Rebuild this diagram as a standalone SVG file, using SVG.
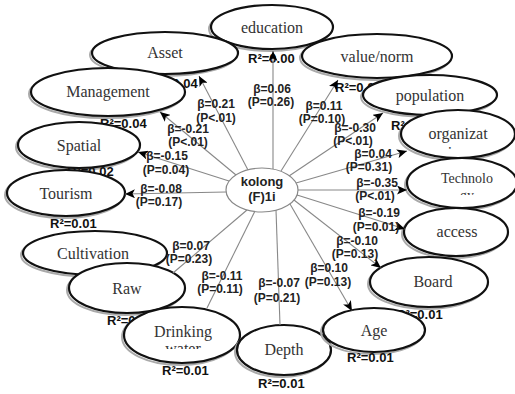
<svg xmlns="http://www.w3.org/2000/svg" width="515" height="394" viewBox="0 0 515 394">
<defs>
<style>
.sh{fill:none;stroke:#aaa;stroke-width:2}
.el{fill:#fff;stroke:#111;stroke-width:2.2}
.nl{font-family:"Liberation Serif","Times New Roman",serif;font-size:16px;fill:#333;text-anchor:middle}
.r2{font-family:"Liberation Sans",Arial,sans-serif;font-size:13px;font-weight:bold;fill:#111}
.bl{font-family:"Liberation Sans",Arial,sans-serif;font-size:12px;font-weight:bold;fill:#222;text-anchor:middle}
.ln{stroke:#888;stroke-width:1.1;fill:none}
.ar{marker-end:url(#ah)}
</style>
<marker id="ah" markerUnits="userSpaceOnUse" markerWidth="11" markerHeight="9" refX="10" refY="4.5" orient="auto">
<path d="M0,0 L10,4.5 L0,9 L2.5,4.5 z" fill="#000"/>
</marker>
<clipPath id="cDrink"><rect x="120" y="300" width="130" height="49"/></clipPath>
<clipPath id="cTech"><rect x="400" y="160" width="115" height="35"/></clipPath>
<clipPath id="cOrg"><rect x="400" y="110" width="115" height="39"/></clipPath>
</defs>
<rect width="515" height="394" fill="#fff"/>

<g id="node-education">
<ellipse class="sh" cx="270" cy="29" rx="61" ry="22"/>
<ellipse class="el" cx="272" cy="27" rx="61" ry="22"/>
<text class="nl" x="272" y="33">education</text>
<text class="r2" x="248" y="63">R²=0.00</text>
</g>
<g id="node-value-norm">
<ellipse class="sh" cx="375" cy="58" rx="75" ry="22"/>
<ellipse class="el" cx="377" cy="56" rx="75" ry="22"/>
<text class="nl" x="377" y="62">value/norm</text>
<text class="r2" x="335" y="92">R²=0.0</text>
</g>
<g id="node-population">
<ellipse class="sh" cx="428" cy="97" rx="67" ry="20"/>
<ellipse class="el" cx="430" cy="95" rx="67" ry="20"/>
<text class="nl" x="430" y="101">population</text>
<text class="r2" x="391" y="130">R²=0.0</text>
</g>
<g id="node-organizat">
<ellipse class="sh" cx="456" cy="136" rx="57" ry="24"/>
<ellipse class="el" cx="458" cy="134" rx="57" ry="24"/>
<text class="nl" x="458" y="139">organizat</text>
<text class="nl" x="458" y="158" clip-path="url(#cOrg)">ion</text>
</g>
<g id="node-technology">
<ellipse class="sh" cx="460" cy="185" rx="55" ry="25"/>
<ellipse class="el" cx="462" cy="183" rx="55" ry="25"/>
<text class="nl" x="467" y="183" style="font-size:14px">Technolo</text>
<text class="nl" x="467" y="200" style="font-size:14px" clip-path="url(#cTech)">gy</text>
</g>
<g id="node-access">
<ellipse class="sh" cx="454" cy="234" rx="52" ry="24"/>
<ellipse class="el" cx="456" cy="232" rx="52" ry="24"/>
<text class="nl" x="457" y="237">access</text>
</g>
<g id="node-board">
<ellipse class="sh" cx="427" cy="284" rx="59" ry="25"/>
<ellipse class="el" cx="429" cy="282" rx="59" ry="25"/>
<text class="nl" x="433" y="287">Board</text>
<text class="r2" x="396" y="319">R²=0.01</text>
</g>
<g id="node-asset">
<ellipse class="sh" cx="163" cy="55" rx="73" ry="21"/>
<ellipse class="el" cx="165" cy="53" rx="73" ry="21"/>
<text class="nl" x="165" y="58">Asset</text>
<text class="r2" x="151" y="88">R²=0.04</text>
</g>
<g id="node-management">
<ellipse class="sh" cx="106" cy="94" rx="77" ry="24"/>
<ellipse class="el" cx="108" cy="92" rx="77" ry="24"/>
<text class="nl" x="108" y="97">Management</text>
<text class="r2" x="100" y="128">R²=0.04</text>
</g>
<g id="node-spatial">
<ellipse class="sh" cx="77" cy="147" rx="61" ry="23"/>
<ellipse class="el" cx="79" cy="145" rx="61" ry="23"/>
<text class="nl" x="79" y="151">Spatial</text>
<text class="r2" x="67" y="176">R²=0.02</text>
</g>
<g id="node-tourism">
<ellipse class="sh" cx="64" cy="195" rx="59" ry="23"/>
<ellipse class="el" cx="66" cy="193" rx="59" ry="23"/>
<text class="nl" x="66" y="199">Tourism</text>
<text class="r2" x="50" y="228">R²=0.01</text>
</g>
<g id="node-cultivation">
<ellipse class="sh" cx="93" cy="255" rx="72" ry="22"/>
<ellipse class="el" cx="95" cy="253" rx="72" ry="22"/>
<text class="nl" x="93" y="259">Cultivation</text>
</g>
<g id="node-raw">
<ellipse class="sh" cx="125" cy="290" rx="58" ry="25"/>
<ellipse class="el" cx="127" cy="288" rx="58" ry="25"/>
<text class="nl" x="127" y="294">Raw</text>
<text class="r2" x="107" y="325">R²=0.01</text>
</g>
<g id="node-drinking-water">
<ellipse class="sh" cx="180" cy="337" rx="58" ry="28"/>
<ellipse class="el" cx="182" cy="335" rx="58" ry="28"/>
<text class="nl" x="183" y="337">Drinking</text>
<text class="nl" x="183" y="354" clip-path="url(#cDrink)">water</text>
<text class="r2" x="162" y="375">R²=0.01</text>
</g>
<g id="node-depth">
<ellipse class="sh" cx="282" cy="352" rx="47" ry="25"/>
<ellipse class="el" cx="284" cy="350" rx="47" ry="25"/>
<text class="nl" x="284" y="355">Depth</text>
<text class="r2" x="258" y="388">R²=0.01</text>
</g>
<g id="node-age">
<ellipse class="sh" cx="372" cy="332" rx="51" ry="22"/>
<ellipse class="el" cx="374" cy="330" rx="51" ry="22"/>
<text class="nl" x="374" y="336">Age</text>
<text class="r2" x="347" y="362">R²=0.01</text>
</g>

<g id="connectors">
<line class="ln ar" x1="273" y1="169" x2="273" y2="51"/>
<line class="ln ar" x1="281" y1="171" x2="338" y2="80"/>
<line class="ln ar" x1="289" y1="176" x2="383" y2="113"/>
<line class="ln ar" x1="296" y1="183" x2="407" y2="151"/>
<line class="ln ar" x1="298" y1="190" x2="407" y2="190"/>
<line class="ln ar" x1="297" y1="195" x2="405" y2="229"/>
<line class="ln ar" x1="294" y1="200" x2="381" y2="268"/>
<line class="ln ar" x1="290" y1="204" x2="352" y2="311"/>
<line class="ln" x1="276" y1="210" x2="280" y2="325"/>
<line class="ln" x1="255" y1="211" x2="207" y2="308"/>
<line class="ln" x1="247" y1="210" x2="173" y2="273"/>
<line class="ln ar" x1="226" y1="192" x2="125" y2="194"/>
<line class="ln ar" x1="229" y1="181" x2="138" y2="152"/>
<line class="ln ar" x1="236" y1="175" x2="160" y2="112"/>
<line class="ln ar" x1="248" y1="170" x2="199" y2="76"/>

<text class="bl" x="272" y="93">β=0.06</text><text class="bl" x="271" y="106">(P=0.26)</text>
<text class="bl" x="324" y="110">β=0.11</text><text class="bl" x="322" y="123">(P=0.10)</text>
<text class="bl" x="355" y="132">β=-0.30</text><text class="bl" x="353" y="145">(P&lt;.01)</text>
<text class="bl" x="373" y="158">β=0.04</text><text class="bl" x="369" y="171">(P=0.31)</text>
<text class="bl" x="377" y="187">β=-0.35</text><text class="bl" x="375" y="200">(P&lt;.01)</text>
<text class="bl" x="379" y="217">β=-0.19</text><text class="bl" x="376" y="231">(P=0.01)</text>
<text class="bl" x="357" y="245">β=-0.10</text><text class="bl" x="355" y="258">(P=0.13)</text>
<text class="bl" x="329" y="272">β=0.10</text><text class="bl" x="328" y="286">(P=0.13)</text>
<text class="bl" x="279" y="287">β=-0.07</text><text class="bl" x="277" y="302">(P=0.21)</text>
<text class="bl" x="222" y="280">β=-0.11</text><text class="bl" x="220" y="293">(P=0.11)</text>
<text class="bl" x="191" y="250">β=0.07</text><text class="bl" x="189" y="263">(P=0.23)</text>
<text class="bl" x="161" y="193">β=-0.08</text><text class="bl" x="159" y="206">(P=0.17)</text>
<text class="bl" x="167" y="160">β=-0.15</text><text class="bl" x="166" y="174">(P=0.04)</text>
<text class="bl" x="188" y="133">β=-0.21</text><text class="bl" x="188" y="146">(P&lt;.01)</text>
<text class="bl" x="216" y="108">β=0.21</text><text class="bl" x="216" y="122">(P&lt;.01)</text>
</g>

<g id="node-kolong">
<ellipse cx="262" cy="190" rx="36" ry="22" fill="#fff" stroke="#888" stroke-width="1.2"/>
<text class="bl" x="262" y="186" style="font-size:13px">kolong</text>
<text class="bl" x="262" y="201" style="font-size:13px">(F)1i</text>
</g>
</svg>
